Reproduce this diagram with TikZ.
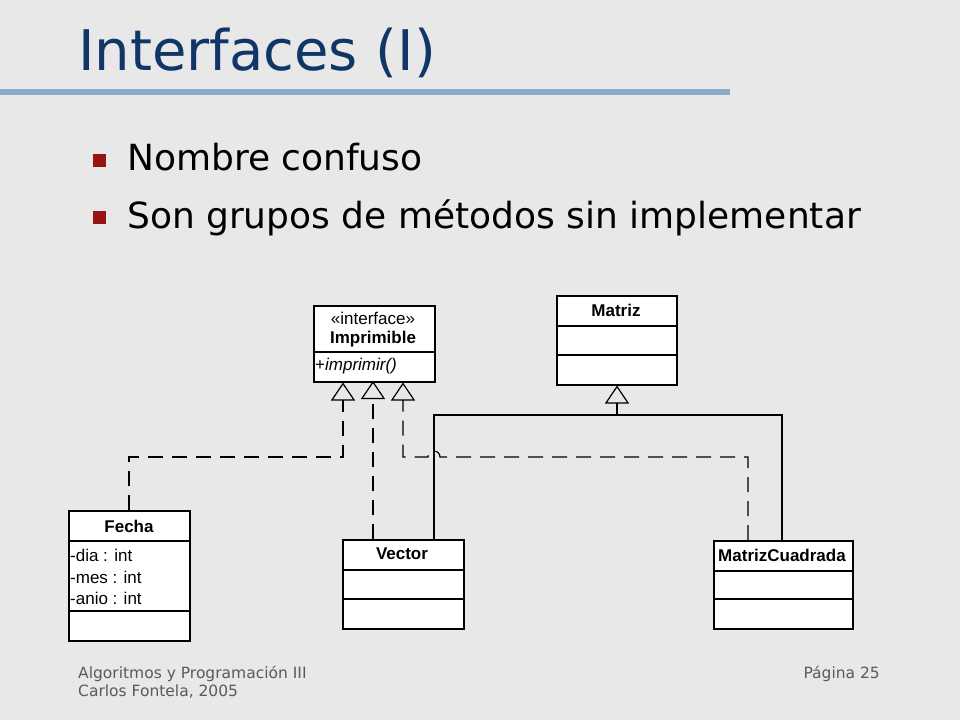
\documentclass[tikz,border=0pt]{standalone}
\usepackage{fontspec}
\setmainfont{DejaVu Sans}
\newfontfamily\umlfont{Liberation Sans}
\usetikzlibrary{arrows.meta}
\definecolor{slidebg}{RGB}{232,232,232}
\definecolor{titleblue}{RGB}{16,54,104}
\definecolor{rulecol}{RGB}{140,170,200}
\definecolor{bulletred}{RGB}{150,20,20}
\definecolor{footgray}{RGB}{90,90,90}

\begin{document}
\begin{tikzpicture}[x=1pt,y=-1pt,
  umlbox/.style={draw,fill=white,line width=1.5pt,anchor=north west,inner sep=0pt},
  umltext/.style={font=\umlfont\fontsize{17}{19}\selectfont,inner sep=0pt},
  umlname/.style={umltext,font=\umlfont\bfseries\fontsize{17}{19}\selectfont},
  realiza/.style={line width=1.2pt,dash pattern=on 15pt off 9pt,-{Triangle[open,length=18pt,width=24pt,line width=1.2pt]}},
  hereda/.style={line width=1.2pt,-{Triangle[open,length=18pt,width=24pt,line width=1.2pt]}},
  bullet/.style={fill=bulletred,minimum size=13pt,inner sep=0pt}]
  \fill[slidebg] (0,0) rectangle (960,720);
  \useasboundingbox (0,0) rectangle (960,720);

  % title
  \node[anchor=base west,text=titleblue,font=\fontsize{56}{64}\selectfont,inner sep=0pt] (title) at (78,70) {Interfaces (I)};
  \fill[rulecol] (0,89) rectangle (730,95);

  % bullets
  \node[bullet] (b1) at (99,160) {};
  \node[anchor=base west,font=\fontsize{36}{42}\selectfont,inner sep=0pt] (t1) at (127,170) {Nombre confuso};
  \node[bullet] (b2) at (99,217) {};
  \node[anchor=base west,font=\fontsize{36}{42}\selectfont,inner sep=0pt] (t2) at (127,228) {Son grupos de métodos sin implementar};

  % classes
  \node[umlbox,minimum width=121pt,minimum height=76pt] (impr) at (313,305) {};
  \draw[line width=1.5pt] (313,352) -- (434,352);
  \node[umltext] (imprst) at (373,318) {«interface»};
  \node[umlname] (imprname) at (373,339) {Imprimible};
  \node[umltext,anchor=west] (improp) at (315,366) {+\textit{imprimir()}};

  \node[umlbox,minimum width=120pt,minimum height=89pt] (matriz) at (556,295) {};
  \draw[line width=1.5pt] (556,326) -- (676,326) (556,355) -- (676,355);
  \node[umlname] (matrizname) at (616,310) {Matriz};

  \node[umlbox,minimum width=121pt,minimum height=130pt] (fecha) at (68,510) {};
  \draw[line width=1.5pt] (68,541) -- (189,541) (68,611) -- (189,611);
  \node[umlname] (fechaname) at (129,526) {Fecha};
  \node[umltext,anchor=west] (fa1) at (70,555) {-dia : int};
  \node[umltext,anchor=west] (fa2) at (70,577) {-mes : int};
  \node[umltext,anchor=west] (fa3) at (70,598) {-anio : int};

  \node[umlbox,minimum width=121pt,minimum height=89pt] (vector) at (342,539) {};
  \draw[line width=1.5pt] (342,570) -- (463,570) (342,599) -- (463,599);
  \node[umlname] (vectorname) at (402,554) {Vector};

  \node[umlbox,minimum width=139pt,minimum height=88pt] (mcuad) at (713,540) {};
  \draw[line width=1.5pt] (713,571) -- (852,571) (713,599) -- (852,599);
  \node[umlname] (mcuadname) at (782,555) {MatrizCuadrada};

  % connectors
  \coordinate (fk) at (129,457);
  \coordinate (ik1) at (343,457);
  \coordinate (ik3) at (403,457);
  \coordinate (mk) at (748,457);
  \coordinate (hk) at (617,415);
  \draw[realiza] (fecha.north -| fk) -- (fk) -- (ik1) -- (ik1 |- impr.south);
  \draw[realiza] (vector.north -| 373,0) -- (373,381);
  \draw[realiza] (mcuad.north -| mk) -- (mk) -- (440,457) arc[start angle=0,end angle=180,radius=6pt] -- (ik3) -- (ik3 |- impr.south);
  \draw[hereda] (vector.north -| 434,0) -- (434,415) -- (hk) -- (hk |- matriz.south);
  \draw[line width=1.2pt] (mcuad.north -| 782,0) -- (782,415) -- (hk);

  % footer
  \node[anchor=base west,text=footgray,font=\fontsize{15.5}{18}\selectfont,inner sep=0pt] (foot1) at (78,678) {Algoritmos y Programación III};
  \node[anchor=base west,text=footgray,font=\fontsize{15.5}{18}\selectfont,inner sep=0pt] (foot2) at (78,696) {Carlos Fontela, 2005};
  \node[anchor=base east,text=footgray,font=\fontsize{15.5}{18}\selectfont,inner sep=0pt] (foot3) at (880,678) {Página 25};
\end{tikzpicture}
\end{document}
